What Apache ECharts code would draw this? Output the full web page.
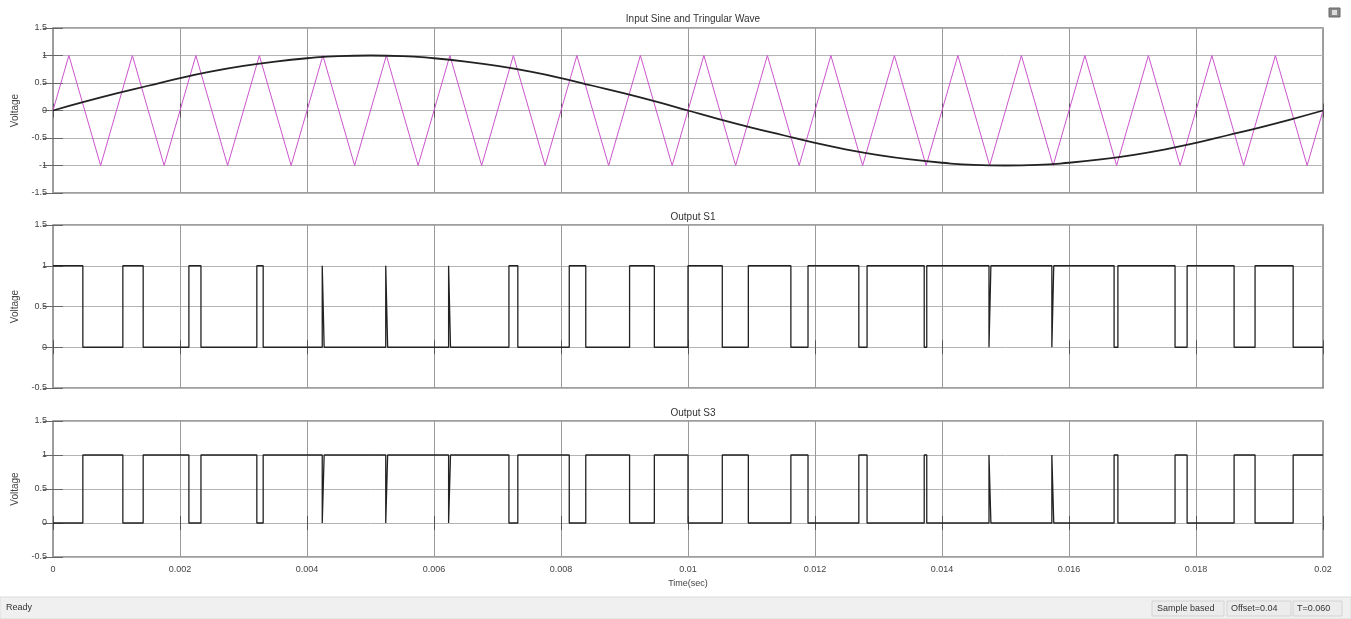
<!DOCTYPE html>
<html><head><meta charset="utf-8">
<script src="https://cdn.jsdelivr.net/npm/echarts@6/dist/echarts.min.js"></script>
<style>html,body{margin:0;padding:0;background:#fff;}#c{width:1351px;height:619px;}</style>
</head><body><div id="c"></div>
<script>
// ---- data ----
var timeTicks = ['0','0.002','0.004','0.006','0.008','0.01','0.012','0.014','0.016','0.018','0.02'];
var sineTimes = [0,0.0005,0.001,0.0015,0.002,0.0025,0.003,0.0035,0.004,0.0045,0.005,0.0055,0.006,0.0065,0.007,0.0075,0.008,0.0085,0.009,0.0095,0.01,0.0105,0.011,0.0115,0.012,0.0125,0.013,0.0135,0.014,0.0145,0.015,0.0155,0.016,0.0165,0.017,0.0175,0.018,0.0185,0.019,0.0195,0.02];
var sineVals = [0,0.16,0.31,0.45,0.59,0.71,0.81,0.89,0.95,0.99,1.0,0.99,0.95,0.89,0.81,0.71,0.59,0.45,0.31,0.16,0,-0.16,-0.31,-0.45,-0.59,-0.71,-0.81,-0.89,-0.95,-0.99,-1.0,-0.99,-0.95,-0.89,-0.81,-0.71,-0.59,-0.45,-0.31,-0.16,0];
var triTimes = [0,0.00025,0.00075,0.00125,0.00175,0.00225,0.00275,0.00325,0.00375,0.00425,0.00475,0.00525,0.00575,0.00625,0.00675,0.00725,0.00775,0.00825,0.00875,0.00925,0.00975,0.01025,0.01075,0.01125,0.01175,0.01225,0.01275,0.01325,0.01375,0.01425,0.01475,0.01525,0.01575,0.01625,0.01675,0.01725,0.01775,0.01825,0.01875,0.01925,0.01975,0.02];
var triVals = [0,1,-1,1,-1,1,-1,1,-1,1,-1,1,-1,1,-1,1,-1,1,-1,1,-1,1,-1,1,-1,1,-1,1,-1,1,-1,1,-1,1,-1,1,-1,1,-1,1,-1,0];
var s1Start = 1;
var s1Edges = [0.00047,0.00110,0.00142,0.00214,0.00233,0.00321,0.00331,0.00424,0.00427,0.00524,0.00527,0.00623,0.00626,0.00718,0.00732,0.00813,0.00839,0.00908,0.00947,0.01000,0.01054,0.01095,0.01162,0.01189,0.01269,0.01282,0.01372,0.01376,0.01474,0.01477,0.01573,0.01576,0.01671,0.01677,0.01767,0.01786,0.01860,0.01893,0.01953];
var s3Start = 0;
var s3Edges = [0.00047,0.00110,0.00142,0.00214,0.00233,0.00321,0.00331,0.00424,0.00427,0.00524,0.00527,0.00623,0.00626,0.00718,0.00732,0.00813,0.00839,0.00908,0.00947,0.01000,0.01054,0.01095,0.01162,0.01189,0.01269,0.01282,0.01372,0.01376,0.01474,0.01477,0.01573,0.01576,0.01671,0.01677,0.01767,0.01786,0.01860,0.01893,0.01953];
var topTicks = {'1.5':'1.5','1':'1','0.5':'0.5','0':'0','-0.5':'-0.5','-1':'-1','-1.5':'-1.5'};

// ---- build ----
function zip(a,b){return a.map(function(v,i){return [v,b[i]];});}
function steps(start, edges, tEnd){
  var d=[[0,start]], v=start;
  edges.forEach(function(t){d.push([t,v]); v=1-v; d.push([t,v]);});
  d.push([tEnd,v]); return d;
}
var FONT='Liberation Sans';
var grids=[{top:28,height:165},{top:225,height:163},{top:421,height:136}];
var chart=echarts.init(document.getElementById('c'),null,{renderer:'canvas'});
var xAxes=[], yAxes=[];
grids.forEach(function(g,i){
  var last=(i===2);
  xAxes.push({type:'value',gridIndex:i,min:0,max:0.02,interval:0.002,
    axisLine:{show:false},
    axisTick:{show:true,inside:true,length:7,lineStyle:{color:'#555'}},
    axisLabel:{show:last,color:'#444',fontFamily:FONT,fontSize:9,margin:8,
      formatter:function(v){return timeTicks[Math.round(v/0.002)];}},
    splitLine:{show:true,lineStyle:{color:'#9a9a9a',width:1}},
    name:last?'Time(sec)':'',nameLocation:'middle',nameGap:22,
    nameTextStyle:{color:'#444',fontFamily:FONT,fontSize:9}});
  xAxes.push({type:'value',gridIndex:i,position:'top',min:0,max:0.02,interval:0.002,
    axisLine:{show:false},axisTick:{show:true,inside:true,length:7,lineStyle:{color:'#555'}},
    axisLabel:{show:false},splitLine:{show:false}});
  var mn=(i===0)?-1.5:-0.5;
  yAxes.push({type:'value',gridIndex:i,min:mn,max:1.5,interval:0.5,
    axisLine:{show:false},
    axisTick:{show:true,inside:true,length:10,lineStyle:{color:'#666'}},
    axisLabel:{color:'#444',fontFamily:FONT,fontSize:9,margin:6,
      formatter:function(v){var k=String(Math.round(v*10)/10);return topTicks[k]!==undefined?topTicks[k]:k;}},
    splitLine:{show:true,lineStyle:{color:'#b4b4b4',width:1}},
    name:'Voltage',nameLocation:'middle',nameGap:27,nameRotate:90,
    nameTextStyle:{color:'#444',fontFamily:FONT,fontSize:10}});
  yAxes.push({type:'value',gridIndex:i,position:'right',min:mn,max:1.5,interval:0.5,
    axisLine:{show:false},axisTick:{show:true,inside:true,length:10,lineStyle:{color:'#666'}},
    axisLabel:{show:false},splitLine:{show:false}});
});
var option={
  animation:false,
  backgroundColor:'#ffffff',
  title:[
    {text:'Input Sine and Tringular Wave',left:688,top:9,textAlign:'center',textStyle:{fontFamily:FONT,fontSize:10,fontWeight:'normal',color:'#333'}},
    {text:'Output S1',left:688,top:207,textAlign:'center',textStyle:{fontFamily:FONT,fontSize:10,fontWeight:'normal',color:'#333'}},
    {text:'Output S3',left:688,top:403,textAlign:'center',textStyle:{fontFamily:FONT,fontSize:10,fontWeight:'normal',color:'#333'}}
  ],
  grid:grids.map(function(g){return {left:53,right:28,top:g.top,height:g.height,show:true,borderColor:'#808080',borderWidth:1.5,backgroundColor:'#fff'};}),
  xAxis:xAxes, yAxis:yAxes,
  series:[
    {type:'line',xAxisIndex:0,yAxisIndex:0,data:zip(triTimes,triVals),showSymbol:false,lineStyle:{color:'#cc55cc',width:1}},
    {type:'line',xAxisIndex:0,yAxisIndex:0,data:zip(sineTimes,sineVals),smooth:true,showSymbol:false,lineStyle:{color:'#222',width:1.8}},
    {type:'line',xAxisIndex:2,yAxisIndex:2,data:steps(s1Start,s1Edges,0.02),showSymbol:false,lineStyle:{color:'#222',width:1.3}},
    {type:'line',xAxisIndex:4,yAxisIndex:4,data:steps(s3Start,s3Edges,0.02),showSymbol:false,lineStyle:{color:'#222',width:1.3}}
  ],
  graphic:[
    {type:'rect',shape:{x:0,y:597,width:1351,height:22},style:{fill:'#f0f0f0',stroke:'#dcdcdc',lineWidth:1},silent:true},
    {type:'text',left:6,top:603,style:{text:'Ready',fill:'#333',font:'9px "Liberation Sans"'}},
    {type:'rect',shape:{x:1152,y:601,width:72,height:15},style:{fill:'#ececec',stroke:'#d4d4d4',lineWidth:1}},
    {type:'text',left:1157,top:604,style:{text:'Sample based',fill:'#333',font:'9px "Liberation Sans"'}},
    {type:'rect',shape:{x:1227,y:601,width:64,height:15},style:{fill:'#ececec',stroke:'#d4d4d4',lineWidth:1}},
    {type:'text',left:1231,top:604,style:{text:'Offset=0.04',fill:'#333',font:'9px "Liberation Sans"'}},
    {type:'rect',shape:{x:1293,y:601,width:49,height:15},style:{fill:'#ececec',stroke:'#d4d4d4',lineWidth:1}},
    {type:'text',left:1297,top:604,style:{text:'T=0.060',fill:'#333',font:'9px "Liberation Sans"'}},
    {type:'rect',shape:{x:1329,y:8,width:11,height:9},style:{fill:'#888',stroke:'#666',lineWidth:1}},
    {type:'rect',shape:{x:1332,y:10,width:5,height:5},style:{fill:'#ddd'}}
  ]
};
chart.setOption(option);
</script></body></html>
